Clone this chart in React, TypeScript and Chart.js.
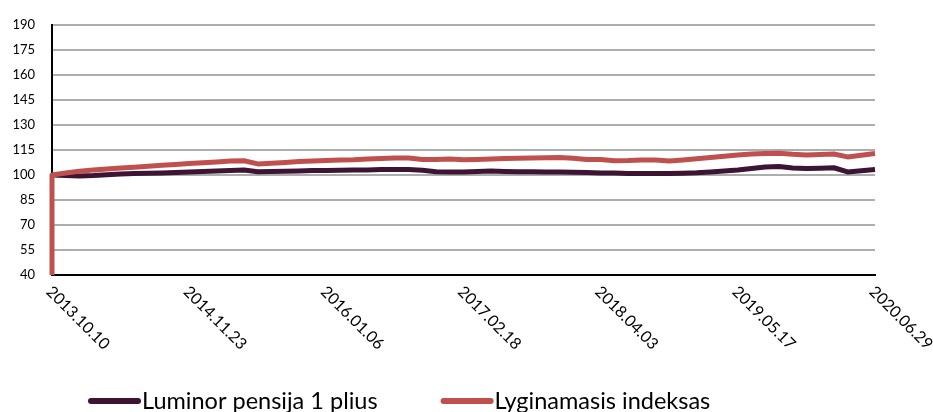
import React, { useEffect, useRef } from "react";
import { Chart, registerables } from "chart.js";

Chart.register(...registerables);

// ---- data ----
const xTickLabels = [
  "2013.10.10",
  "2014.11.23",
  "2016.01.06",
  "2017.02.18",
  "2018.04.03",
  "2019.05.17",
  "2020.06.29",
];
const samplesPerLabel = 10;

const seriesNames = ["Luminor pensija 1 plius", "Lyginamasis indeksas"];
const seriesColors = ["#3D1433", "#C0504D"];

const fundValues = [
  100, 99.6, 99.3, 99.6, 100.1, 100.5, 100.8, 101.0, 101.2, 101.5,
  101.8, 102.0, 102.3, 102.7, 102.9, 101.9, 102.0, 102.2, 102.4, 102.6,
  102.7, 102.8, 102.9, 103.0, 103.2, 103.3, 103.3, 102.8, 101.9, 101.8,
  101.7, 102.0, 102.3, 102.1, 101.9, 101.9, 101.8, 101.7, 101.6, 101.4,
  101.2, 101.1, 100.9, 100.9, 100.8, 100.8, 101.0, 101.3, 101.8, 102.3,
  102.9, 103.8, 104.8, 105.0, 104.2, 103.8, 104.0, 104.3, 101.8, 102.5,
  103.2,
];

const indexStartValue = 40;
const indexValues = [
  100, 101.2, 102.2, 103.0, 103.6, 104.1, 104.6, 105.2, 105.8, 106.3,
  106.8, 107.3, 107.8, 108.3, 108.5, 106.6, 107.0, 107.5, 108.0, 108.3,
  108.6, 108.9, 109.1, 109.5, 109.9, 110.1, 110.1, 109.2, 109.2, 109.5,
  109.1, 109.3, 109.5, 109.8, 110.0, 110.1, 110.3, 110.5, 110.0, 109.3,
  109.2, 108.5, 108.6, 109.0, 108.9, 108.4, 109.0, 109.7, 110.4, 111.2,
  112.0, 112.5, 112.9, 113.0, 112.4, 112.0, 112.3, 112.5, 110.8, 111.8,
  112.8,
];

const yMin = 40;
const yMax = 190;
const yStep = 15;

const FONT = "Lato, 'Open Sans', sans-serif";

const overlayPlugin = {
  id: "overlayLabels",
  afterDraw(chart: any) {
    const ctx = chart.ctx as CanvasRenderingContext2D;
    const xs = chart.scales.x;
    const area = chart.chartArea;
    ctx.save();
    // rotated x tick labels
    ctx.font = `16px ${FONT}`;
    ctx.fillStyle = "#000";
    ctx.textAlign = "left";
    ctx.textBaseline = "middle";
    xTickLabels.forEach((lab, k) => {
      const px = xs.getPixelForValue(k * samplesPerLabel);
      ctx.save();
      ctx.translate(px - 3, area.bottom + 14);
      ctx.rotate(Math.PI / 4);
      ctx.fillText(lab, 0, 0);
      ctx.restore();
    });
    // legend
    ctx.font = `23.5px ${FONT}`;
    const legendY = 401;
    let x = 88;
    chart.data.datasets.forEach((ds: any) => {
      ctx.strokeStyle = ds.borderColor;
      ctx.lineWidth = 6;
      ctx.lineCap = "round";
      ctx.beginPath();
      ctx.moveTo(x + 3, legendY);
      ctx.lineTo(x + 50, legendY);
      ctx.stroke();
      ctx.fillStyle = "#000";
      ctx.textBaseline = "middle";
      ctx.fillText(ds.label, x + 54, legendY);
      x += 54 + ctx.measureText(ds.label).width + 63;
    });
    ctx.restore();
  },
};

export default function App() {
  const ref = useRef<HTMLCanvasElement | null>(null);

  useEffect(() => {
    if (!ref.current) return;
    const fundData = fundValues.map((v, i) => ({ x: i, y: v }));
    const indexData = [{ x: 0, y: indexStartValue }].concat(
      indexValues.map((v, i) => ({ x: i, y: v }))
    );
    const chart = new Chart(ref.current, {
      type: "line",
      data: {
        datasets: [
          {
            label: seriesNames[0],
            data: fundData,
            borderColor: seriesColors[0],
            backgroundColor: seriesColors[0],
            borderWidth: 5,
            pointRadius: 0,
            tension: 0,
            borderJoinStyle: "round",
            clip: false as any,
            order: 1,
          },
          {
            label: seriesNames[1],
            data: indexData,
            borderColor: seriesColors[1],
            backgroundColor: seriesColors[1],
            borderWidth: 5,
            pointRadius: 0,
            tension: 0,
            borderJoinStyle: "round",
            clip: false as any,
            order: 0,
          },
        ],
      },
      options: {
        animation: false,
        responsive: false,
        devicePixelRatio: 1,
        layout: { padding: { left: 0, top: 19, right: 58, bottom: 137 } },
        plugins: {
          legend: { display: false },
          tooltip: { enabled: false },
        },
        scales: {
          x: {
            type: "linear",
            min: 0,
            max: (xTickLabels.length - 1) * samplesPerLabel,
            grid: { display: false, drawTicks: false },
            border: { display: true, color: "#000", width: 2 },
            ticks: { display: false },
            afterFit: (s: any) => {
              s.height = 0;
            },
          },
          y: {
            min: yMin,
            max: yMax,
            grid: { color: "#ADADAD", lineWidth: 2, drawTicks: false },
            border: { display: true, color: "#000", width: 2 },
            ticks: {
              stepSize: yStep,
              padding: 17,
              color: "#000",
              font: { family: FONT, size: 13 },
            },
            afterFit: (s: any) => {
              s.width = 52;
            },
          },
        },
      },
      plugins: [overlayPlugin],
    });
    return () => chart.destroy();
  }, []);

  return (
    <div style={{ position: "absolute", left: 0, top: 0, width: 933, height: 412, background: "#fff" }}>
      <canvas ref={ref} width={933} height={412} />
    </div>
  );
}
